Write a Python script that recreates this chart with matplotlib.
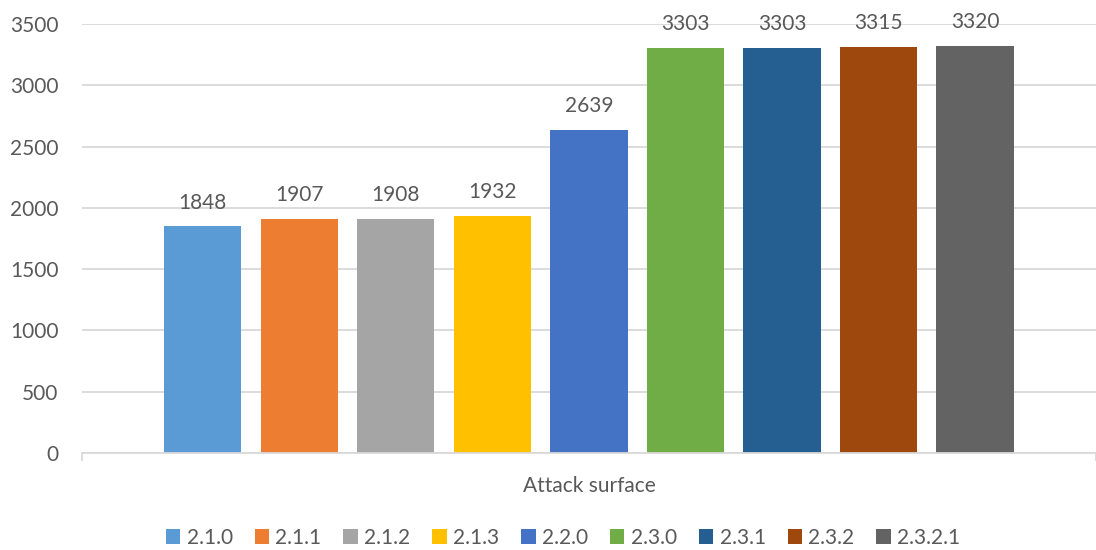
import matplotlib
matplotlib.use("Agg")
import matplotlib.pyplot as plt
import numpy as np

versions = ["2.1.0", "2.1.1", "2.1.2", "2.1.3", "2.2.0", "2.3.0", "2.3.1", "2.3.2", "2.3.2.1"]
attack_surface = [1848, 1907, 1908, 1932, 2639, 3303, 3303, 3315, 3320]
colors = ["#5B9BD5", "#ED7D31", "#A5A5A5", "#FFC000", "#4472C4",
          "#70AD47", "#255E91", "#9E480E", "#636363"]
category = "Attack surface"
y_ticks = [0, 500, 1000, 1500, 2000, 2500, 3000, 3500]

TXT = "#595959"
GRID = "#D9D9D9"
FS = 15
plt.rcParams["font.family"] = ["Lato", "DejaVu Sans"]

fig = plt.figure(figsize=(10.96, 5.5), dpi=100)
ax = fig.add_axes([0.0748, 0.1764, 0.925, 0.78])

n = len(versions)
pos = np.arange(n) - (n - 1) / 2
half = 5.25
for x, v, c, lab in zip(pos, attack_surface, colors, versions):
    ax.bar(x, v, width=0.8, color=c, label=lab, zorder=2)
    ax.annotate(f"{v}", (x, v), xytext=(0, 10), textcoords="offset points",
                ha="center", va="bottom", fontsize=FS, color=TXT, zorder=3)

ax.set_xlim(-half, half)
ax.set_ylim(0, 3500)
ax.set_yticks(y_ticks)
ax.yaxis.grid(True, color=GRID, lw=1.3, zorder=0)
ax.tick_params(axis="y", length=0, labelsize=FS, labelcolor=TXT, pad=17)
ax.set_xticks([-half, half])
ax.set_xticklabels([])
ax.tick_params(axis="x", length=6, width=1.3, color=GRID, direction="out")
for s in ["top", "right", "left"]:
    ax.spines[s].set_visible(False)
ax.spines["bottom"].set_color(GRID)
ax.spines["bottom"].set_linewidth(1.3)
ax.set_xlabel(category, fontsize=FS, color=TXT, labelpad=7)

fig.legend(*ax.get_legend_handles_labels(), loc="center",
           bbox_to_anchor=(563 / 1096, 1 - 538 / 550), ncol=n, frameon=False,
           fontsize=FS, labelcolor=TXT, handlelength=0.7, handleheight=0.7,
           handletextpad=0.3, columnspacing=1.05, borderpad=0)

fig.savefig("out.png", dpi=100)
